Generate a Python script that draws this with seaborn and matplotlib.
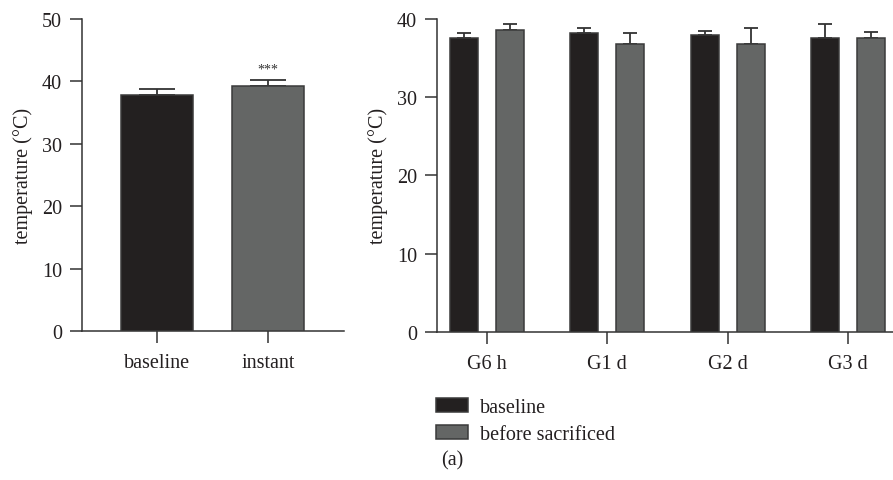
import numpy as np
import pandas as pd
import matplotlib
matplotlib.use("Agg")
import matplotlib.pyplot as plt
import seaborn as sns

# left panel: baseline vs instant
left_cats = ["baseline", "instant"]
left_means = [37.8, 39.2]
left_errs = [1.0, 1.1]

# right panel: four time groups, two conditions
groups = ["G6 h", "G1 d", "G2 d", "G3 d"]
conditions = ["baseline", "before sacrificed"]
base_means = [37.6, 38.2, 37.95, 37.6]
base_errs = [0.6, 0.7, 0.55, 1.8]
sacr_means = [38.6, 36.75, 36.75, 37.6]
sacr_errs = [0.8, 1.45, 2.15, 0.8]

BLACK = "#231f20"
GRAY = "#646665"
EDGE = "#3a3a3a"
AX = "#333333"
TXT = "#231f20"

sns.set_style("ticks")
plt.rcParams["font.family"] = ["Liberation Serif", "DejaVu Serif"]
plt.rcParams["font.size"] = 14.5
plt.rcParams["axes.edgecolor"] = AX
plt.rcParams["axes.linewidth"] = 1.1
plt.rcParams["xtick.color"] = AX
plt.rcParams["ytick.color"] = AX
plt.rcParams["xtick.labelcolor"] = TXT
plt.rcParams["ytick.labelcolor"] = TXT
plt.rcParams["xtick.major.size"] = 8.5
plt.rcParams["ytick.major.size"] = 8.5
plt.rcParams["xtick.major.width"] = 1.1
plt.rcParams["ytick.major.width"] = 1.1
plt.rcParams["xtick.major.pad"] = 7.5
plt.rcParams["ytick.major.pad"] = 6

W, H = 893, 481
fig = plt.figure(figsize=(W / 100, H / 100), dpi=100)
ax1 = fig.add_axes([82 / W, 1 - 332 / H, (344 - 82) / W, (332 - 20) / H])
ax2 = fig.add_axes([437 / W, 1 - 332.7 / H, (893 - 437) / W, 312.7 / H])

# ---- left panel
df_left = pd.DataFrame({"cat": left_cats, "temp": left_means})
sns.barplot(data=df_left, x="cat", y="temp", hue="cat", palette=[BLACK, GRAY],
            width=0.65, errorbar=None, edgecolor=EDGE, linewidth=1.1,
            legend=False, ax=ax1, zorder=3)
bars = sorted(ax1.patches, key=lambda p: p.get_x())
for p, m, e in zip(bars, left_means, left_errs):
    ax1.errorbar(p.get_x() + p.get_width() / 2, m, yerr=[[0], [e]], fmt="none",
                 ecolor=AX, elinewidth=1.3, capsize=13, capthick=1.3, zorder=2)
ax1.text(1, 40.9, "***", ha="center", va="bottom", fontsize=10, color=AX)
ax1.set_ylim(0, 50)
ax1.set_xlim(-0.676, 1.685)
ax1.set_yticks([0, 10, 20, 30, 40, 50])
ax1.set_xlabel("")
ax1.set_ylabel("temperature (°C)", labelpad=6, color=TXT)
sns.despine(ax=ax1)

# ---- right panel
df_right = pd.DataFrame({
    "group": groups * 2,
    "cond": [conditions[0]] * 4 + [conditions[1]] * 4,
    "temp": base_means + sacr_means,
})
sns.barplot(data=df_right, x="group", y="temp", hue="cond", hue_order=conditions,
            palette=[BLACK, GRAY], width=0.765, gap=0.39, errorbar=None,
            edgecolor=EDGE, linewidth=1.1, ax=ax2, zorder=3)
for cont, means, errs in zip(ax2.containers, [base_means, sacr_means], [base_errs, sacr_errs]):
    for p, m, e in zip(cont, means, errs):
        ax2.errorbar(p.get_x() + p.get_width() / 2, m, yerr=[[0], [e]], fmt="none",
                     ecolor=AX, elinewidth=1.3, capsize=5, capthick=1.3, zorder=2)
ax2.set_ylim(0, 40)
ax2.set_xlim(-0.415, 3.375)
ax2.set_yticks([0, 10, 20, 30, 40])
ax2.set_xlabel("")
ax2.set_ylabel("temperature (°C)", labelpad=6, color=TXT)
sns.despine(ax=ax2)

handles, labels = ax2.get_legend_handles_labels()
ax2.get_legend().remove()
fig.legend(handles, labels, loc="upper left", bbox_to_anchor=(418 / W, 1 - 381 / H),
           frameon=False, handlelength=1.6, handleheight=0.7, handletextpad=0.6,
           labelspacing=0.4, fontsize=14.5, labelcolor=TXT)

fig.text(452 / W, 1 - 461 / H, "(a)", ha="center", va="center", fontsize=14.5, color=TXT)

fig.savefig("out.png", dpi=100)
